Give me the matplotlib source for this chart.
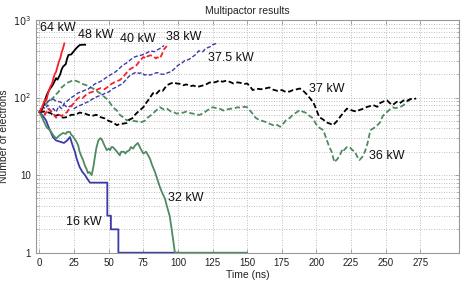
import numpy as np
import matplotlib
matplotlib.use('Agg')
import matplotlib.pyplot as plt
from matplotlib.ticker import FixedLocator, FuncFormatter, LogLocator, NullFormatter

plt.rcParams['font.family'] = ['Liberation Sans', 'DejaVu Sans']

# time (ns) / number of electrons
t64 = [0, 2, 3, 4, 5, 6, 7, 8, 9, 10, 11, 12, 13, 14, 15, 16, 17, 18]
n64 = [65, 75, 85, 95, 92, 110, 125, 140, 150, 175, 200, 215, 250, 290, 320, 380, 430, 500]

t48 = [0, 2, 3, 5, 6, 7, 9, 10, 12, 13, 15, 16, 17, 19, 20, 21, 23, 24, 26, 27, 29, 31, 33]
n48 = [65, 72, 80, 105, 115, 125, 140, 150, 178, 170, 200, 230, 250, 270, 320, 355, 360, 380, 420, 440,
       475, 480, 480]

t40 = [0, 2, 4, 6, 8, 10, 12, 14, 16, 18, 20, 22, 25, 27, 29, 31, 34, 36, 39, 41, 44, 47, 50, 52, 55,
       58, 60, 62, 65, 68, 70, 72, 75, 77, 78, 80, 82, 84, 85, 87, 89, 90, 92]
n40 = [65, 70, 60, 72, 68, 62, 55, 60, 58, 62, 65, 75, 85, 95, 101, 98, 110, 115, 120, 125, 132, 128,
       140, 150, 160, 168, 180, 200, 230, 247, 260, 290, 333, 320, 340, 350, 345, 320, 330, 320, 380,
       420, 461]

t38 = [0, 2, 4, 6, 8, 10, 12, 14, 16, 18, 20, 23, 25, 28, 30, 33, 35, 38, 40, 43, 45, 48, 50, 53, 55,
       58, 60, 63, 65, 68, 70, 73, 75, 78, 80, 83, 85, 88, 90]
n38 = [65, 78, 72, 80, 66, 72, 65, 78, 72, 85, 90, 100, 105, 115, 118, 125, 128, 140, 150, 158, 165,
       180, 190, 205, 215, 240, 260, 280, 300, 330, 340, 350, 360, 380, 400, 390, 410, 440, 470]

t375 = [0, 3, 5, 7, 10, 12, 15, 18, 20, 23, 25, 28, 30, 33, 35, 38, 40, 43, 45, 48, 50, 53, 55, 58,
        60, 63, 65, 68, 70, 72, 74, 76, 78, 80, 83, 85, 88, 90, 93, 95, 98, 100, 103, 105, 108, 110,
        113, 115, 118, 120, 123, 125, 128]
n375 = [65, 80, 85, 92, 95, 90, 88, 80, 75, 78, 72, 78, 80, 85, 88, 95, 100, 105, 108, 115, 118, 130,
        135, 145, 150, 175, 190, 205, 213, 205, 210, 195, 200, 195, 205, 210, 200, 200, 210, 215, 240,
        260, 280, 300, 310, 330, 360, 400, 390, 430, 450, 480, 500]

t37 = [0, 4, 8, 11, 14, 17, 20, 23, 26, 29, 32, 35, 38, 41, 44, 47, 50, 53, 56, 58, 60, 63, 65, 67,
       69, 71, 73, 75, 77, 79, 82, 84, 87, 89, 92, 94, 97, 99, 102, 104, 106, 109, 111, 114, 116, 119,
       121, 123, 125, 128, 130, 132, 135, 138, 140, 143, 145, 148, 150, 152, 154, 157, 160, 163, 166,
       169, 172, 175, 178, 181, 183, 186, 188, 191, 193, 196, 198, 200, 202, 205, 207, 210, 212, 215,
       217, 219, 222, 224, 226, 229, 231, 234, 236, 239, 241, 244, 246, 249, 251, 253, 255, 258, 260,
       263, 265, 268, 270, 272]
n37 = [65, 66, 63, 58, 60, 55, 56, 60, 60, 64, 63, 60, 58, 60, 56, 54, 50, 48, 44, 46, 46, 47, 52, 54,
       60, 65, 70, 75, 85, 95, 114, 110, 125, 122, 144, 150, 157, 152, 150, 144, 148, 140, 143, 137,
       140, 145, 150, 157, 155, 160, 167, 160, 165, 158, 152, 157, 155, 150, 152, 140, 125, 130, 128,
       131, 135, 126, 122, 125, 118, 120, 125, 128, 131, 120, 110, 95, 85, 70, 56, 52, 48, 46, 44, 50,
       56, 62, 72, 70, 68, 66, 69, 72, 75, 78, 80, 76, 85, 90, 92, 85, 80, 88, 84, 92, 90, 96, 94, 98]

t36 = [0, 2, 4, 6, 8, 10, 12, 14, 16, 18, 20, 22, 24, 26, 28, 31, 34, 36, 39, 41, 44, 46, 49, 51, 53,
       56, 58, 61, 63, 66, 68, 71, 73, 76, 78, 81, 83, 85, 87, 90, 92, 95, 97, 99, 101, 104, 106, 109,
       111, 114, 116, 119, 121, 123, 125, 128, 130, 133, 135, 138, 140, 143, 145, 148, 150, 152, 154,
       156, 159, 161, 164, 166, 169, 171, 174, 176, 178, 181, 183, 186, 188, 190, 193, 195, 197, 199,
       201, 203, 205, 207, 209, 211, 213, 215, 217, 219, 220, 222, 224, 226, 228, 229, 231, 233, 235,
       237, 239, 241, 243, 246, 248, 250, 253, 255, 257, 260, 262, 263, 265, 267, 269]
n36 = [65, 72, 80, 88, 92, 100, 110, 120, 135, 145, 155, 160, 167, 165, 160, 150, 144, 138, 130, 122,
       113, 105, 95, 85, 75, 68, 60, 55, 51, 52, 50, 49, 48, 50, 55, 60, 65, 70, 75, 70, 72, 66, 65, 62,
       63, 64, 66, 63, 62, 60, 60, 64, 68, 72, 75, 73, 72, 68, 70, 72, 72, 75, 74, 76, 75, 68, 62, 55,
       51, 50, 48, 46, 44, 45, 42, 46, 51, 55, 60, 65, 69, 66, 63, 58, 55, 48, 42, 40, 38, 30, 24, 20,
       14.7, 16, 18, 22, 21, 23, 23, 21, 20, 18, 15.6, 17, 20, 26, 38, 40, 42, 48, 58, 63, 70, 75, 73,
       75, 78, 80, 88, 92, 98]

t32 = [0, 2, 3, 5, 6, 7.6, 9.8, 11, 12.5, 14, 15, 17, 19, 20, 22, 23, 24, 25, 26.7, 28, 29, 30, 31.5,
       33, 34, 35, 36, 37.7, 39, 40, 41, 42.5, 44, 45, 47, 48.6, 50, 51, 52, 53, 55, 56, 58, 59, 61,
       62, 63, 65, 66, 67.6, 69, 71, 72, 73, 75, 77, 78.5, 80, 81, 83.4, 85, 87, 88.5, 90.6, 92, 94,
       95.5, 97.8, 150]
n32 = [65, 55, 50, 42, 40, 38, 33, 31, 30, 32, 33, 35, 34, 36, 36, 33, 32, 30, 27, 24, 20, 18, 15.6,
       13, 12, 10.6, 11, 10, 13, 17, 22, 28, 30, 29, 24, 21, 22, 21, 23, 23, 21, 20, 18, 20, 20, 19,
       20, 21, 23, 22, 24, 26, 24, 22, 19, 20, 18, 16, 14, 11, 9, 7, 6, 5, 4, 3, 2, 1, 1]

t16 = [0, 2.5, 4.7, 7, 9.7, 12, 14.8, 17.7, 20, 22, 24, 25.6, 27, 29, 31, 32.9, 34.5, 36.5, 49, 49,
       51.6, 51.6, 57, 57, 100]
n16 = [65, 58, 51, 40, 31, 28, 27, 26, 28, 31, 24, 20, 16, 12.7, 11, 10, 9, 8, 8, 3, 3, 2, 2, 1, 1]

labels = ['64 kW', '48 kW', '40 kW', '38 kW', '37.5 kW', '37 kW', '36 kW', '32 kW', '16 kW']
label_t = [0.4, 27.8, 58, 91.3, 121.7, 194.6, 238, 92.8, 19]
label_n = [787, 640, 568, 603, 323, 128, 17.6, 5.07, 2.49]

red = '#f5222b'
blue = '#3b3ba8'
green = '#4f8a62'

fig = plt.figure(figsize=(4.63, 2.83), dpi=100)
ax = fig.add_axes([36 / 463, 1 - 252.7 / 283, (459 - 36) / 463, (252.7 - 20) / 283])

ax.set_yscale('log')
ax.set_xlim(-2.5, 303)
ax.set_ylim(1, 1000)

dash = (0, (3, 1.5))
ax.plot(t16, n16, color=blue, lw=1.3)
ax.plot(t32, n32, color=green, lw=1.3)
ax.plot(t36, n36, color=green, lw=1.3, ls=dash)
ax.plot(t37, n37, color='black', lw=1.3, ls=dash)
ax.plot(t375, n375, color=blue, lw=1.0, ls=dash)
ax.plot(t38, n38, color=blue, lw=1.0, ls=dash)
ax.plot(t40, n40, color=red, lw=1.3, ls=dash)
ax.plot(t48, n48, color='black', lw=1.3)
ax.plot(t64, n64, color=red, lw=1.3)

for lab, x, y in zip(labels, label_t, label_n):
    ax.text(x, y, lab, fontsize=9, ha='left', va='center', color='#111111')

ax.xaxis.set_major_locator(FixedLocator([0, 25, 50, 75, 100, 125, 150, 175, 200, 225, 250, 275]))
ax.yaxis.set_major_locator(FixedLocator([1, 10, 100, 1000]))
ax.yaxis.set_minor_locator(LogLocator(base=10, subs=np.arange(2, 10)))
ax.yaxis.set_minor_formatter(NullFormatter())

def yfmt(v, pos):
    return {1: '1', 10: '10', 100: '$10^2$', 1000: '$10^3$'}.get(int(round(v)), '')

ax.yaxis.set_major_formatter(FuncFormatter(yfmt))

ax.grid(True, which='major', axis='both', ls=(0, (1, 2)), color='#aaaaaa', lw=0.6)
ax.grid(True, which='minor', axis='y', ls=(0, (1, 2)), color='#aaaaaa', lw=0.6)

for s in ax.spines.values():
    s.set_color('#999999')
    s.set_linewidth(0.8)
ax.tick_params(which='both', direction='in', top=True, right=True, color='#999999',
               labelsize=7, labelcolor='#222222', length=3, width=0.6)
ax.tick_params(which='minor', length=1.5)

ax.set_title('Multipactor results', fontsize=7.5, color='#222222', pad=4)
ax.set_xlabel('Time (ns)', fontsize=7.5, color='#222222', labelpad=2)
ax.set_ylabel('Number of electrons', fontsize=7.5, color='#222222', labelpad=3)

fig.savefig('out.png', dpi=100)
